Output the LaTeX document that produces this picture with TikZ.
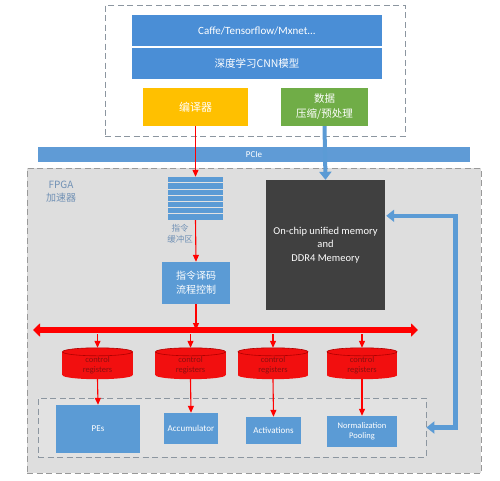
\documentclass[tikz,border=0pt]{standalone}
\usepackage{fontspec}
\setmainfont{Carlito}
\newfontfamily\cjk{Noto Sans CJK SC}
\usetikzlibrary{arrows.meta,calc}
\definecolor{barblue}{HTML}{4A8ED6}
\definecolor{boxblue}{HTML}{5B9BD5}
\definecolor{pcieblue}{HTML}{5F9BD6}
\definecolor{orng}{HTML}{FFC000}
\definecolor{grn}{HTML}{70AD47}
\definecolor{memgray}{HTML}{404040}
\definecolor{bgray}{HTML}{DEDEDE}
\definecolor{igray}{HTML}{E2E2E2}
\definecolor{dashgray}{HTML}{8C96A0}
\definecolor{cylred}{HTML}{F20F0F}
\definecolor{cyledge}{HTML}{B00000}
\definecolor{cyltext}{HTML}{8A1010}
\definecolor{labblue}{HTML}{7191B5}
\tikzset{
  dashbox/.style={draw=dashgray, line width=0.8pt, dash pattern=on 6pt off 3.5pt},
  filled/.style={inner sep=0pt, text=white, align=center},
  redarr/.style={draw=red, line width=1.1pt, -{Triangle[length=7pt,width=6pt]}},
  bluearr/.style={draw=boxblue, line width=4.5pt, -{Triangle[length=8pt,width=12pt]}},
  cylnode/.style={minimum width=70pt, minimum height=31pt, inner sep=0pt, align=center,
    font=\fontsize{8.5}{10}\selectfont, text=cyltext},
  unit/.style={filled, fill=boxblue, font=\fontsize{9}{11}\selectfont},
}
\begin{document}
\begin{tikzpicture}[x=1pt,y=-1pt]
\useasboundingbox (0,0) rectangle (500,480);
\fill[white] (0,0) rectangle (500,480);

% top dashed box
\node[dashbox, fill=white, minimum width=300pt, minimum height=131pt, inner sep=0pt] (host) at (255,70.5) {};
\node[filled, fill=barblue, minimum width=250pt, minimum height=31pt, font=\fontsize{11}{12}\selectfont] (caffe) at (257,30.5) {Caffe/Tensorflow/Mxnet...};
\node[filled, fill=barblue, minimum width=250pt, minimum height=31pt, font=\cjk\fontsize{10.5}{12}\selectfont] (cnn) at (257,63.5) {深度学习CNN模型};
\node[filled, fill=orng, minimum width=105pt, minimum height=38pt, font=\cjk\fontsize{11}{13}\selectfont] (comp) at (195.5,107) {编译器};
\node[filled, fill=grn, minimum width=87pt, minimum height=38pt, font=\cjk\fontsize{10.5}{15}\selectfont] (data) at (324.5,107) {数据\\压缩/预处理};

% PCIe
\node[filled, fill=pcieblue, minimum width=432pt, minimum height=15pt, font=\fontsize{9}{10}\selectfont] (pcie) at (254,154.5) {PCIe};

% FPGA box
\node[dashbox, draw=gray!80, fill=bgray, minimum width=454pt, minimum height=305pt, inner sep=0pt] (fpga) at (254,320.5) {};
\node[text=labblue, font=\cjk\fontsize{10}{13}\selectfont, align=center, inner sep=0pt] (fpgalab) at (61,192) {FPGA\\加速器};

% instruction buffer
\node[fill=boxblue, minimum width=55pt, minimum height=43pt, inner sep=0pt] (buf) at (195.5,198.5) {};
\foreach \i in {1,...,6}{
  \draw[igray, line width=1.1pt] ($(buf.north west)+(0,\i*6.14)$) -- ($(buf.north east)+(0,\i*6.14)$);
}
\node[text=labblue, font=\cjk\fontsize{8.5}{10.5}\selectfont, align=center, inner sep=0pt] (buflab) at (180,234) {指令\\缓冲区};

% decoder
\node[filled, fill=boxblue, minimum width=68pt, minimum height=42pt, font=\cjk\fontsize{10}{14}\selectfont] (dec) at (196,283) {指令译码\\流程控制};

% memory
\node[filled, fill=memgray, minimum width=119pt, minimum height=130pt, font=\fontsize{10.5}{13.5}\selectfont] (mem) at (325.5,245) {On-chip unified memory\\and\\DDR4 Memeory};

% inner dashed box
\node[dashbox, fill=igray, minimum width=388pt, minimum height=59pt, inner sep=0pt] (inner) at (232,427.5) {};

% units
\node[unit, minimum width=84pt, minimum height=48pt] (pes) at (98,429) {PEs};
\node[unit, minimum width=54pt, minimum height=31pt] (acc) at (191,428.5) {Accumulator};
\node[unit, minimum width=55pt, minimum height=27pt] (act) at (273.5,430.5) {Activations};
\node[unit, minimum width=70pt, minimum height=31pt, font=\fontsize{8.5}{10}\selectfont] (norm) at (362,431.5) {Normalization\\Pooling};

% control registers
\node[cylnode] (c1) at (97.5,363.5) {};
\node[cylnode] (c2) at (190.5,363.5) {};
\node[cylnode] (c3) at (273,363.5) {};
\node[cylnode] (c4) at (362,363.5) {};
\foreach \c in {c1,c2,c3,c4}{
  \fill[cylred] ($(\c.north west)+(0,4)$) rectangle ($(\c.south east)+(0,-4)$);
  \fill[cylred] ($(\c.south)+(0,-4)$) ellipse [x radius=35, y radius=4];
  \fill[cylred] ($(\c.north)+(0,4)$) ellipse [x radius=35, y radius=4];
  \draw[cyledge, line width=0.6pt] ($(\c.north)+(0,4)$) ellipse [x radius=35, y radius=4];
  \node[cylnode] at ($(\c)+(0,2)$) {control\\registers};
}

% bus
\coordinate (busL) at (33,330);
\coordinate (busR) at (418,330);
\draw[red, line width=6.5pt, {Triangle[length=7pt,width=13pt]}-{Triangle[length=7pt,width=13pt]}] (busL) -- (busR);

% red arrows
\draw[redarr] (comp.south) -- (buf.north);
\draw[redarr] (buf.south) -- (dec.north);
\draw[redarr] (dec.south) -- (dec.south |- busL);
\foreach \c in {c1,c2,c3,c4}{
  \draw[redarr] ($(\c.north |- busL)+(0,4)$) -- (\c.north);
}
\draw[redarr] (c1.south) -- (pes.north);
\draw[redarr] (c2.south) -- (acc.north);
\draw[redarr] (c3.south) -- (act.north);
\draw[redarr] (c4.south) -- (norm.north);

% blue arrows
\draw[bluearr, line width=4pt] (data.south) -- (mem.north);
\draw[bluearr, {Triangle[length=8pt,width=12pt]}-{Triangle[length=8pt,width=12pt]}] (inner.east) -- ++(29,0) |- ($(mem.north east)+(1,36)$);
\end{tikzpicture}
\end{document}
